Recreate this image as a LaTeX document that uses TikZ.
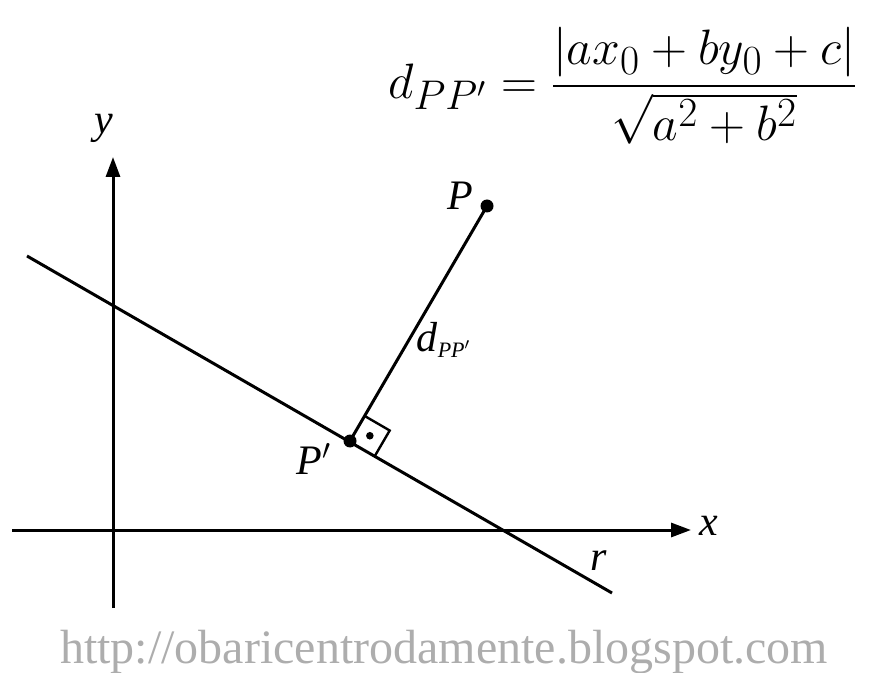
\documentclass[tikz,border=0pt]{standalone}
\usepackage{fontspec}
\usepackage{amsmath}
\newfontfamily\labfont{Liberation Serif}
\usetikzlibrary{arrows.meta, calc, positioning}

\begin{document}
\begin{tikzpicture}[x=0.5pt, y=-0.5pt,
    axis/.style={line width=1.5pt, -{Triangle[length=10pt, width=7pt]}},
    seg/.style={line width=1.5pt},
    pt/.style={circle, fill, inner sep=0pt, minimum size=6.5pt},
    lab/.style={font=\fontsize{21}{25}\selectfont\labfont\itshape}]
\useasboundingbox (0,0) rectangle (888,673);
% axes
\coordinate (xs) at (12,530);
\coordinate (xe) at (691,530);
\coordinate (ys) at (113,608);
\coordinate (ye) at (113,157);
\draw[axis] (xs) -- (xe);
\draw[axis] (ys) -- (ye);
\node[lab] (xl) at (709,526) {x};
\node[lab] (yl) at (104,128) {y};
% line r
\coordinate (rs) at (27,256);
\coordinate (re) at (612,593);
\draw[seg] (rs) -- (re);
\node[lab] (rl) at (599,561) {r};
% points
\node[pt] (P) at (487,206) {};
\node[pt] (Pp) at (350,441) {};
\draw[seg] (Pp.center) -- (P.center);
\node[lab] (Pl) at (460,196) {P};
\node[lab] (Ppl) at (314,459) {P$'$};
\node[lab] (dl) at (444,340) {d\textsubscript{\fontsize{11}{13}\selectfont PP$'$}};
% right angle
\coordinate (c1) at ($(Pp.center)!14.5pt!(re)$);
\coordinate (c2) at ($(Pp.center)!14.5pt!(P.center)$);
\coordinate (c3) at ($(c1)+(c2)-(Pp.center)$);
\draw[line width=1.2pt] (c1) -- (c3) -- (c2);
\node[circle, fill, inner sep=0pt, minimum size=3.8pt] (rd) at ($(Pp.center)!0.5!(c3)$) {};
% formula
\node[font=\fontsize{29}{34}\selectfont] (f) at (623,86)
    {$\displaystyle d_{PP'} = \frac{|ax_0+by_0+c|}{\sqrt{a^2+b^2}}$};
% watermark
\node[font=\fontsize{24}{28}\selectfont\labfont, text=black!32] (w) at (444,652)
    {http://obaricentrodamente.blogspot.com};
\end{tikzpicture}
\end{document}
